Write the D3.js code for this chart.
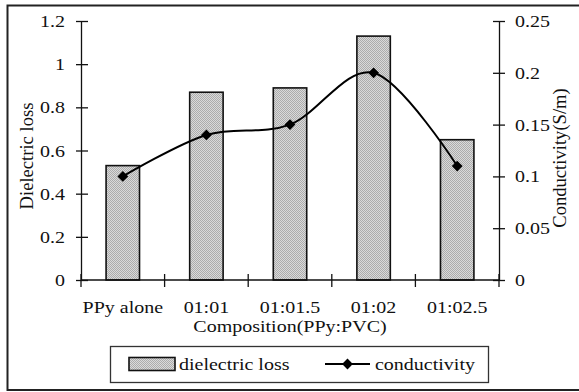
<!DOCTYPE html>
<html>
<head>
<meta charset="utf-8">
<script src="https://cdn.jsdelivr.net/npm/d3@7/dist/d3.min.js"></script>
<style>
  html, body { margin: 0; padding: 0; background: #fff; }
  svg { display: block; font-family: "Liberation Serif", "Times New Roman", serif; }
</style>
</head>
<body>
<svg id="chart" width="579" height="392"></svg>
<script>
// Composition groups and measured values
const categories = ["PPy alone", "01:01", "01:01.5", "01:02", "01:02.5"];
const dielectricLoss = [0.53, 0.87, 0.89, 1.13, 0.65];
const conductivity = [0.10, 0.14, 0.15, 0.20, 0.11];
const leftTicks = [0, 0.2, 0.4, 0.6, 0.8, 1, 1.2];
const rightTicks = [0, 0.05, 0.1, 0.15, 0.2, 0.25];

const svg = d3.select("#chart");
const plot = { left: 81, right: 499, top: 21, bottom: 280 };
const fontSize = 20;
const squash = 0.87;       // glyphs are a little shorter than they are wide
const ink = "#111";

// Horizontal label with slightly condensed height
function label(parent, x, y, str, anchor) {
  return parent.append("text")
    .attr("transform", `translate(${x},${y}) scale(1,${squash})`)
    .attr("text-anchor", anchor || "start")
    .attr("font-size", fontSize).attr("fill", ink)
    .text(str);
}

// Outer frame
svg.append("rect")
  .attr("x", 7.5).attr("y", 5.5)
  .attr("width", 620).attr("height", 384.5)
  .attr("fill", "none").attr("stroke", "#222").attr("stroke-width", 2);

// Fine dotted grey fill for the bars
const defs = svg.append("defs");
const pat = defs.append("pattern")
  .attr("id", "barFill").attr("patternUnits", "userSpaceOnUse")
  .attr("width", 2).attr("height", 2);
pat.append("rect").attr("width", 2).attr("height", 2).attr("fill", "#dadada");
pat.append("rect").attr("width", 1).attr("height", 1).attr("fill", "#acacac");
pat.append("rect").attr("x", 1).attr("y", 1).attr("width", 1).attr("height", 1).attr("fill", "#acacac");

const x = d3.scaleBand().domain(categories).range([plot.left, plot.right]);
const yL = d3.scaleLinear().domain([0, 1.2]).range([plot.bottom, plot.top]);
const yR = d3.scaleLinear().domain([0, 0.25]).range([plot.bottom, plot.top]);

// Bars
const barW = x.bandwidth() * 0.4;
svg.append("g").selectAll("rect")
  .data(categories.map((c, i) => ({ c, v: dielectricLoss[i] })))
  .join("rect")
  .attr("x", d => x(d.c) + (x.bandwidth() - barW) / 2)
  .attr("y", d => yL(d.v))
  .attr("width", barW)
  .attr("height", d => yL(0) - yL(d.v))
  .attr("fill", "url(#barFill)")
  .attr("stroke", ink).attr("stroke-width", 1.6);

// Axes with crossing tick marks
function styleAxis(g, outer, inner) {
  g.attr("font-family", null).attr("font-size", null);
  g.selectAll("path.domain").attr("stroke", ink).attr("stroke-width", 1.3);
  g.selectAll(".tick line").attr("x1", inner).attr("x2", outer)
    .attr("stroke", ink).attr("stroke-width", 1.3);
  g.selectAll(".tick text")
    .attr("font-size", fontSize).attr("fill", ink)
    .attr("transform", `scale(1,${squash})`);
}

const leftAxis = svg.append("g").attr("transform", `translate(${plot.left},0)`)
  .call(d3.axisLeft(yL).tickValues(leftTicks).tickFormat(d3.format("~g"))
    .tickSize(5).tickSizeOuter(0).tickPadding(11));
styleAxis(leftAxis, -5, 7);

const rightAxis = svg.append("g").attr("transform", `translate(${plot.right},0)`)
  .call(d3.axisRight(yR).tickValues(rightTicks).tickFormat(d3.format("~g"))
    .tickSize(6).tickSizeOuter(0).tickPadding(10));
styleAxis(rightAxis, 6, -6);

// Category axis: ticks sit on band boundaries
const xAxisG = svg.append("g").attr("transform", `translate(0,${plot.bottom})`);
xAxisG.append("line").attr("x1", plot.left).attr("x2", plot.right)
  .attr("stroke", ink).attr("stroke-width", 1.3);
const boundaries = categories.map(c => x(c)).concat([plot.right]);
xAxisG.selectAll("line.tk").data(boundaries).join("line").attr("class", "tk")
  .attr("x1", d => d).attr("x2", d => d).attr("y1", -6).attr("y2", 7)
  .attr("stroke", ink).attr("stroke-width", 1.3);
categories.forEach(c => label(xAxisG, x(c) + x.bandwidth() / 2, 33, c, "middle"));

// Conductivity line, smoothed
const pts = categories.map((c, i) => [x(c) + x.bandwidth() / 2, yR(conductivity[i])]);
svg.append("path")
  .attr("d", d3.line().curve(d3.curveCardinal.tension(0))(pts))
  .attr("fill", "none").attr("stroke", "#000").attr("stroke-width", 2);
const diamond = d3.symbol().type(d3.symbolSquare).size(58);
svg.append("g").selectAll("path").data(pts).join("path")
  .attr("transform", d => `translate(${d[0]},${d[1]}) rotate(45)`)
  .attr("d", diamond).attr("fill", "#000");

// Axis titles
label(svg, (plot.left + plot.right) / 2, 332, "Composition(PPy:PVC)", "middle");
svg.append("text").attr("transform", "translate(33,156) rotate(-90)").attr("text-anchor", "middle")
  .attr("font-size", 18.6).attr("fill", ink).text("Dielectric loss");
svg.append("text").attr("transform", "translate(566,158) rotate(-90)").attr("text-anchor", "middle")
  .attr("font-size", 18.6).attr("fill", ink).text("Conductivity(S/m)");

// Legend
const lg = svg.append("g");
lg.append("rect").attr("x", 110.5).attr("y", 346.5).attr("width", 378).attr("height", 36)
  .attr("fill", "#fff").attr("stroke", "#333").attr("stroke-width", 1.3);
lg.append("rect").attr("x", 129).attr("y", 357.5).attr("width", 46).attr("height", 13)
  .attr("fill", "url(#barFill)").attr("stroke", ink).attr("stroke-width", 1.6);
label(lg, 179, 370, "dielectric loss");
lg.append("line").attr("x1", 325).attr("x2", 370).attr("y1", 364).attr("y2", 364)
  .attr("stroke", "#000").attr("stroke-width", 2);
lg.append("path").attr("transform", "translate(347.5,364) rotate(45)").attr("d", diamond).attr("fill", "#000");
label(lg, 375, 370, "conductivity");
</script>
</body>
</html>
